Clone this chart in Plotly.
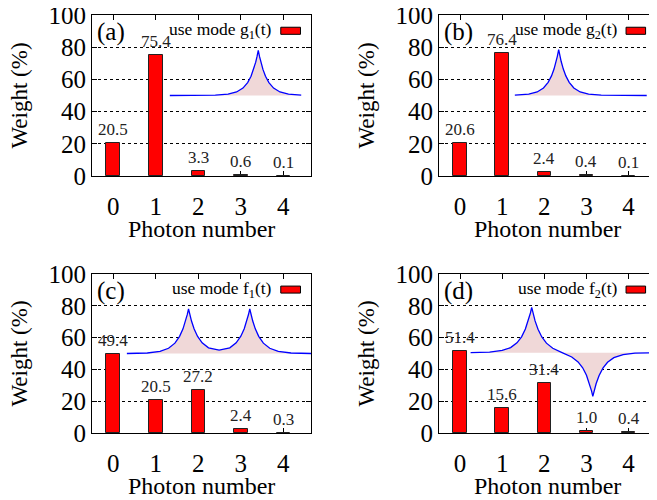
import plotly.graph_objects as go

# ---------------- data ----------------
photon = [0, 1, 2, 3, 4]
x_ticklabels = ["0", "1", "2", "3", "4"]
y_ticks = [0, 20, 40, 60, 80, 100]

weights_a = [20.5, 75.4, 3.3, 0.6, 0.1]
weights_b = [20.6, 76.4, 2.4, 0.4, 0.1]
weights_c = [49.4, 20.5, 27.2, 2.4, 0.3]
weights_d = [51.4, 15.6, 31.4, 1.0, 0.4]

panel_labels = ["(a)", "(b)", "(c)", "(d)"]
legend_texts = ["use mode g<sub>1</sub>(t)", "use mode g<sub>2</sub>(t)",
                "use mode f<sub>1</sub>(t)", "use mode f<sub>2</sub>(t)"]
x_title = "Photon number"
y_title = "Weight (%)"

# inset mode-shape curves (in axis units)
mode_a_x = [1.33, 2.0, 2.4, 2.7, 2.9, 3.05, 3.16, 3.24, 3.30, 3.35, 3.38, 3.41,
            3.44, 3.47, 3.52, 3.58, 3.66, 3.77, 3.92, 4.12, 4.42]
mode_a_y = [50.0, 50.0, 50.2, 50.8, 52.2, 54.6, 58.0, 62.0, 66.2, 70.7, 74.1, 78.0,
            74.1, 70.7, 66.2, 62.0, 58.0, 54.6, 52.2, 50.8, 50.2]

mode_b_x = [1.30, 1.63, 1.83, 1.98, 2.09, 2.17, 2.23, 2.28, 2.31, 2.34, 2.37, 2.40,
            2.45, 2.51, 2.59, 2.70, 2.85, 3.05, 3.35, 3.75, 4.43]
mode_b_y = [50.2, 50.8, 52.2, 54.7, 58.2, 62.2, 66.4, 71.1, 74.5, 78.5, 74.5, 71.1,
            66.4, 62.2, 58.2, 54.7, 52.2, 50.8, 50.2, 50.0, 50.0]

mode_c_x = [0.32, 0.8, 1.1, 1.3, 1.45, 1.56, 1.64, 1.70, 1.74, 1.77, 1.80, 1.84,
            1.90, 1.98, 2.09, 2.24, 2.49, 2.74, 2.89, 3.00, 3.08, 3.14, 3.18, 3.21,
            3.24, 3.28, 3.34, 3.42, 3.53, 3.68, 3.88, 4.18, 4.65]
mode_c_y = [50.0, 50.3, 51.3, 53.3, 56.5, 60.8, 65.5, 70.4, 74.4, 78.0, 74.5, 70.4,
            65.6, 60.9, 56.7, 53.6, 52.1, 53.6, 56.7, 60.9, 65.6, 70.4, 74.5, 78.0,
            74.4, 70.4, 65.5, 60.8, 56.5, 53.3, 51.3, 50.3, 50.0]

mode_d_x = [0.25, 0.7, 1.0, 1.2, 1.35, 1.46, 1.55, 1.62, 1.67, 1.70, 1.73, 1.78,
            1.85, 1.94, 2.05, 2.2, 2.42, 2.65, 2.8, 2.91, 3.0, 3.07, 3.12, 3.15,
            3.18, 3.23, 3.30, 3.39, 3.50, 3.65, 3.87, 4.15, 4.65]
mode_d_y = [50.5, 50.9, 51.9, 53.7, 56.7, 60.5, 65.4, 70.6, 75.5, 79.0, 75.4, 70.5,
            65.3, 60.4, 56.5, 53.3, 50.6, 47.8, 44.7, 41.0, 36.3, 31.2, 26.5, 23.0,
            26.5, 31.1, 36.2, 40.8, 44.5, 47.4, 49.3, 50.2, 50.5]
mode_baselines = [50.0, 50.0, 50.0, 50.5]

weights = [weights_a, weights_b, weights_c, weights_d]
modes = [(mode_a_x, mode_a_y), (mode_b_x, mode_b_y),
         (mode_c_x, mode_c_y), (mode_d_x, mode_d_y)]

# ---------------- layout geometry ----------------
# page has an 8px body margin, so the figure is 649x492 drawn at (8, 8)
W, H = 649, 492
OFF = 8
x_doms = [[(92 - OFF) / W, (311 - OFF) / W], [(439 - OFF) / W, (656 - OFF) / W]]
y_doms = [[1 - (176 - OFF) / H, 1 - (15 - OFF) / H],
          [1 - (433 - OFF) / H, 1 - (274 - OFF) / H]]
panel_dom = [(0, 0), (1, 0), (0, 1), (1, 1)]

FONT = "Liberation Serif"
BAR_RED = "#ff0000"
CURVE_BLUE = "#0000ff"
FILL_PINK = "#f0d8d8"

fig = go.Figure()
annotations = []
shapes = []

for k in range(4):
    sfx = "" if k == 0 else str(k + 1)
    xa, ya = "x" + sfx, "y" + sfx
    xd, yd = xa + " domain", ya + " domain"
    mx, my = modes[k]
    base = mode_baselines[k]

    # bars
    fig.add_trace(go.Bar(x=photon, y=weights[k], width=0.32,
                         marker=dict(color=BAR_RED, line=dict(color="#222222", width=1)),
                         xaxis=xa, yaxis=ya, showlegend=False, hoverinfo="x+y"))
    # inset: baseline then curve filled to it
    fig.add_trace(go.Scatter(x=[mx[0], mx[-1]], y=[base, base], mode="lines",
                             line=dict(width=0, color=FILL_PINK),
                             xaxis=xa, yaxis=ya, showlegend=False, hoverinfo="skip"))
    fig.add_trace(go.Scatter(x=mx, y=my, mode="lines", fill="tonexty",
                             fillcolor=FILL_PINK,
                             line=dict(color=CURVE_BLUE, width=1.3),
                             xaxis=xa, yaxis=ya, showlegend=False))

    # value labels
    for xi, v in zip(photon, weights[k]):
        annotations.append(dict(x=xi, y=v, xref=xa, yref=ya, text=f"{v:.1f}",
                                showarrow=False, yanchor="bottom", yshift=2,
                                font=dict(family=FONT, size=17, color="#222222")))
    # panel label
    annotations.append(dict(x=0.015, y=0.895, xref=xd, yref=yd,
                            text=panel_labels[k], showarrow=False,
                            xanchor="left", yanchor="middle",
                            font=dict(family=FONT, size=25, color="black")))
    # legend text and key
    annotations.append(dict(x=0.832, y=0.905, xref=xd, yref=yd,
                            text=legend_texts[k], showarrow=False,
                            xanchor="right", yanchor="middle",
                            font=dict(family=FONT, size=17.5, color="black")))
    shapes.append(dict(type="rect", xref=xd, yref=yd,
                       x0=0.862, x1=0.952, y0=0.880, y1=0.924,
                       fillcolor=BAR_RED, line=dict(color="black", width=1)))
    # axis titles
    annotations.append(dict(x=0.5, y=0, xref=xd, yref=yd, text=x_title,
                            showarrow=False, xanchor="center", yanchor="middle",
                            yshift=-53,
                            font=dict(family=FONT, size=24, color="black")))
    annotations.append(dict(x=0, y=0.5, xref=xd, yref=yd, text=y_title,
                            showarrow=False, xanchor="center", yanchor="middle",
                            xshift=-73, textangle=-90,
                            font=dict(family=FONT, size=23, color="black")))

    col, row = panel_dom[k]
    axis_common = dict(showline=True, linecolor="black", linewidth=1.2, mirror="ticks",
                       ticks="inside", ticklen=5, tickcolor="black", zeroline=False,
                       automargin=False, ticklabeloverflow="allow",
                       tickfont=dict(family=FONT, size=25, color="black"))
    fig.layout["xaxis" + sfx] = dict(
        domain=x_doms[col], anchor=ya, range=[-0.5, 4.65],
        tickvals=photon, ticktext=x_ticklabels, showgrid=False,
        ticklabelstandoff=8, layer="below traces",
        **axis_common)
    fig.layout["yaxis" + sfx] = dict(
        domain=y_doms[row], anchor=xa, range=[0, 100],
        tickvals=y_ticks, showgrid=True, gridcolor="black", griddash="dot",
        gridwidth=1,
        **axis_common)

fig.update_layout(width=W, height=H,
                  margin=dict(l=0, r=0, t=0, b=0, pad=0, autoexpand=False),
                  plot_bgcolor="white", paper_bgcolor="white",
                  annotations=annotations, shapes=shapes,
                  font=dict(family=FONT, color="black"), bargap=0)

fig.write_html("out.html")
